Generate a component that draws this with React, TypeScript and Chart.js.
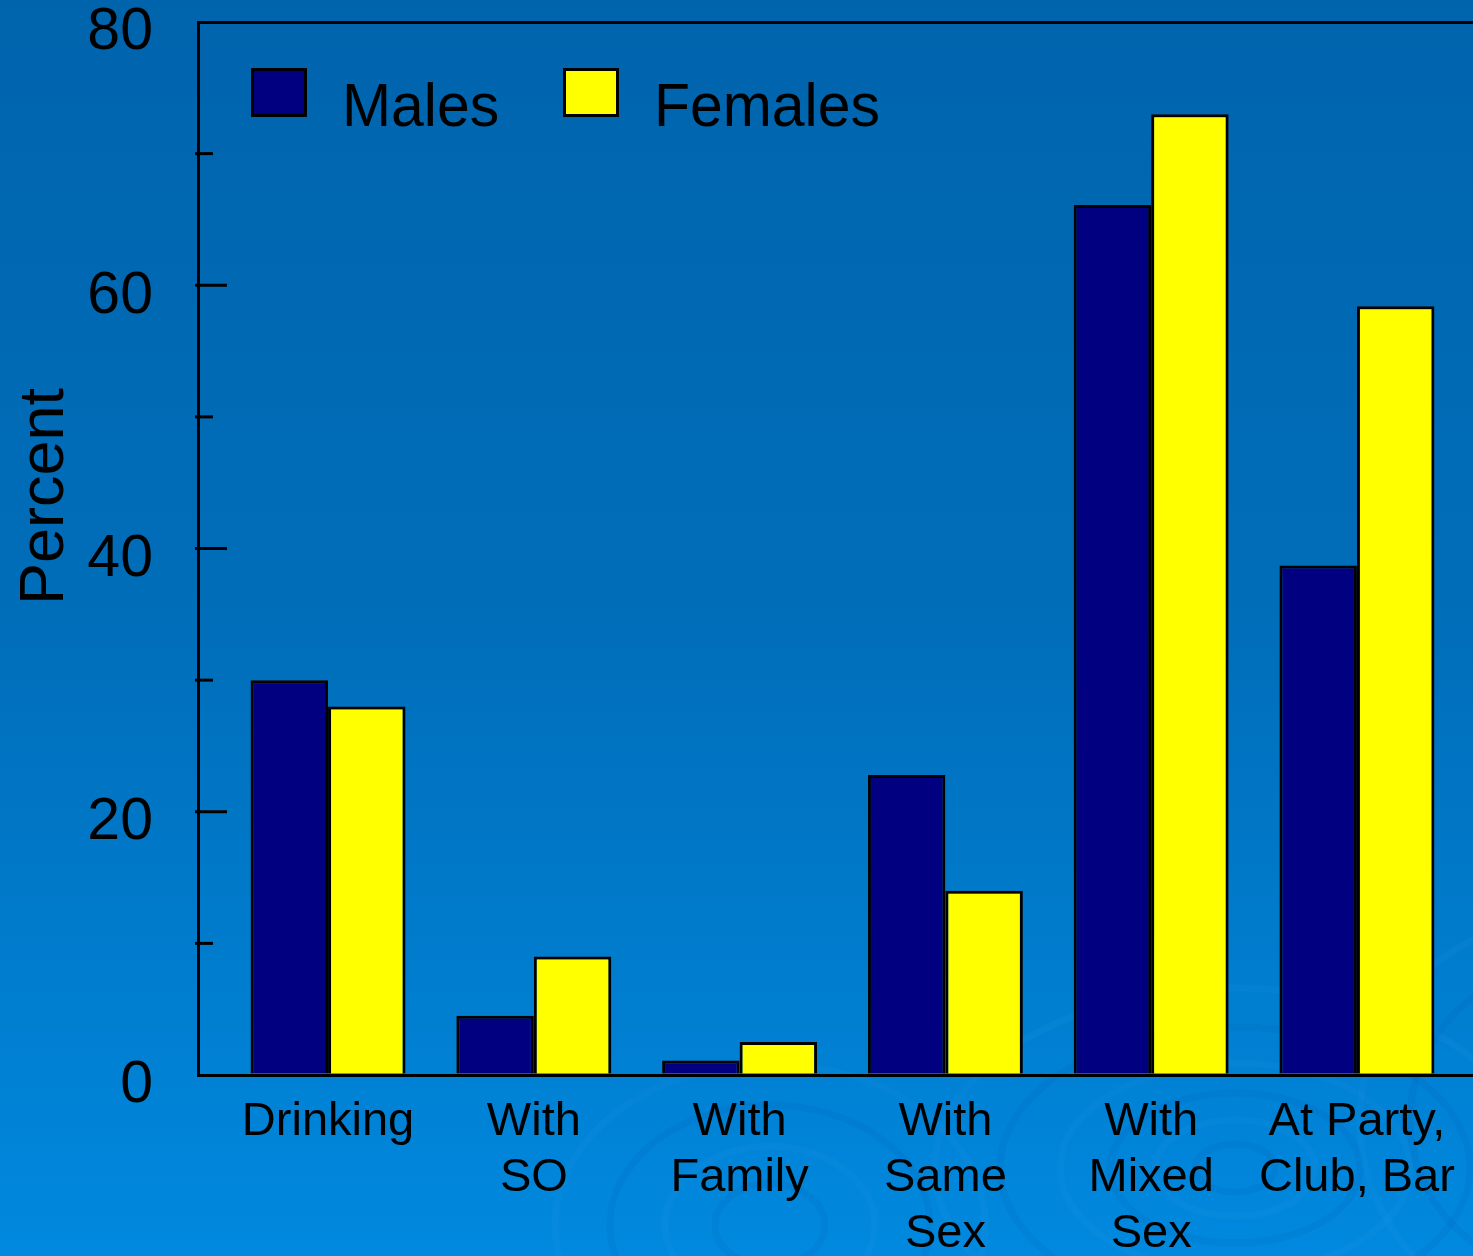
import { useEffect, useRef } from 'react';
import { Chart, registerables } from 'chart.js';

Chart.register(...registerables);

// Where people drink: share of males and females per drinking context
const categories: string[][] = [
  ['Drinking'],
  ['With', 'SO'],
  ['With', 'Family'],
  ['With', 'Same', 'Sex'],
  ['With', 'Mixed', 'Sex'],
  ['At Party,', 'Club, Bar'],
];
const males = [30, 4.5, 1.1, 22.8, 66.1, 38.7];
const females = [28, 9, 2.5, 14, 73, 58.4];
const seriesNames = ['Males', 'Females'];
const seriesColors = ['#000080', '#FFFF00'];
const yMax = 80;
const yStep = 20;
const yMinorStep = 10;
const yTitle = 'Percent';

const FONT = "'Liberation Sans', Arial, Helvetica, sans-serif";
const W = 1473;
const H = 1256;

// Slide-style blue backdrop with faint water ripples
const backdrop = {
  id: 'backdrop',
  beforeDraw(chart: any) {
    const { ctx, width, height } = chart;
    ctx.save();
    const g = ctx.createLinearGradient(0, 0, 0, height);
    g.addColorStop(0, '#0064AD');
    g.addColorStop(0.5, '#006EBA');
    g.addColorStop(1, '#0089DF');
    ctx.fillStyle = g;
    ctx.fillRect(0, 0, width, height);

    const rings = (cx: number, cy: number, radii: number[], squash: number) => {
      radii.forEach((r, i) => {
        ctx.beginPath();
        ctx.ellipse(cx, cy, r, r * squash, 0, 0, Math.PI * 2);
        ctx.lineWidth = 7;
        ctx.strokeStyle = i % 2 === 0 ? 'rgba(0, 70, 150, 0.08)' : 'rgba(70, 170, 245, 0.07)';
        ctx.stroke();
      });
    };
    rings(1235, 1168, [40, 80, 125, 175, 235, 300], 0.6);
    rings(770, 1225, [55, 105, 160, 215], 0.75);
    rings(1560, 1120, [150, 200], 1);
    ctx.restore();
  },
};

// Inward tick marks, rotated axis title and the in-plot legend
const decorations = {
  id: 'decorations',
  afterDraw(chart: any) {
    const { ctx, chartArea } = chart;
    const yScale = chart.scales.y;
    const left = chartArea.left;
    ctx.save();
    ctx.strokeStyle = '#000';
    ctx.lineWidth = 3;
    for (let v = yMinorStep; v < yMax; v += yMinorStep) {
      const py = yScale.getPixelForValue(v);
      const major = v % yStep === 0;
      ctx.beginPath();
      ctx.moveTo(left - 3, py);
      ctx.lineTo(left + (major ? 29 : 15), py);
      ctx.stroke();
    }

    // axis title
    ctx.save();
    ctx.translate(left - 135, (chartArea.top + chartArea.bottom) / 2 - 52);
    ctx.rotate(-Math.PI / 2);
    ctx.fillStyle = '#000';
    ctx.font = `63px ${FONT}`;
    ctx.textAlign = 'center';
    ctx.textBaseline = 'alphabetic';
    ctx.fillText(yTitle, 0, 0);
    ctx.restore();

    // legend
    const boxX = [left + 53, left + 365];
    chart.data.datasets.forEach((ds: any, i: number) => {
      const bx = boxX[i];
      const by = chartArea.top + 46;
      ctx.fillStyle = ds.backgroundColor;
      ctx.fillRect(bx, by, 56, 49);
      ctx.lineWidth = 3;
      ctx.strokeStyle = '#000';
      ctx.strokeRect(bx + 1.5, by + 1.5, 53, 46);
      ctx.save();
      ctx.translate(bx + 91, chartArea.top + 104);
      ctx.scale(0.95, 1);
      ctx.fillStyle = '#000';
      ctx.font = `62px ${FONT}`;
      ctx.textAlign = 'left';
      ctx.textBaseline = 'alphabetic';
      ctx.fillText(ds.label, 0, 0);
      ctx.restore();
    });
    ctx.restore();
  },
};

export default function App() {
  const canvasRef = useRef<HTMLCanvasElement | null>(null);

  useEffect(() => {
    if (!canvasRef.current) return;
    const chart = new Chart(canvasRef.current, {
      type: 'bar',
      data: {
        datasets: [
          {
            label: seriesNames[0],
            data: males.map((v, i) => ({ x: i, y: v })),
            backgroundColor: seriesColors[0],
            borderColor: '#000',
            borderWidth: 3,
          },
          {
            label: seriesNames[1],
            data: females.map((v, i) => ({ x: i, y: v })),
            backgroundColor: seriesColors[1],
            borderColor: '#000',
            borderWidth: 3,
          },
        ],
      },
      options: {
        responsive: false,
        animation: false,
        events: [],
        layout: { padding: { top: 22, left: 0, right: 0, bottom: 0 } },
        datasets: { bar: { categoryPercentage: 0.753, barPercentage: 1 } },
        plugins: {
          legend: { display: false },
          tooltip: { enabled: false },
        },
        scales: {
          x: {
            type: 'linear',
            offset: false,
            min: -0.632,
            max: 5.564,
            afterBuildTicks: (scale: any) => {
              scale.ticks = categories.map((_, i) => ({ value: i }));
            },
            afterFit: (scale: any) => {
              scale.height = 181;
              scale.paddingLeft = 0;
              scale.paddingRight = 0;
            },
            grid: { display: false, drawTicks: false, offset: false },
            border: { display: true, color: '#000', width: 3 },
            ticks: {
              color: '#000',
              padding: 19,
              maxRotation: 0,
              autoSkip: false,
              font: { family: FONT, size: 47, lineHeight: 56 / 47 },
              callback: (value: any) => categories[Math.round(Number(value))] ?? '',
            },
          },
          y: {
            min: 0,
            max: yMax,
            afterFit: (scale: any) => {
              scale.width = 198;
              scale.paddingTop = 0;
              scale.paddingBottom = 0;
            },
            grid: {
              drawTicks: false,
              lineWidth: 3,
              color: (ctx: any) => (ctx.tick && ctx.tick.value === yMax ? '#000' : 'rgba(0,0,0,0)'),
            },
            border: { display: true, color: '#000', width: 3 },
            ticks: {
              stepSize: yStep,
              color: '#000',
              padding: 45,
              labelOffset: 11,
              font: { family: FONT, size: 59 },
            },
          },
        },
      },
      plugins: [backdrop, decorations],
    } as any);
    return () => chart.destroy();
  }, []);

  return (
    <div style={{ position: 'absolute', left: 0, top: 0, width: W, height: H }}>
      <canvas ref={canvasRef} width={W} height={H} style={{ display: 'block' }} />
    </div>
  );
}
